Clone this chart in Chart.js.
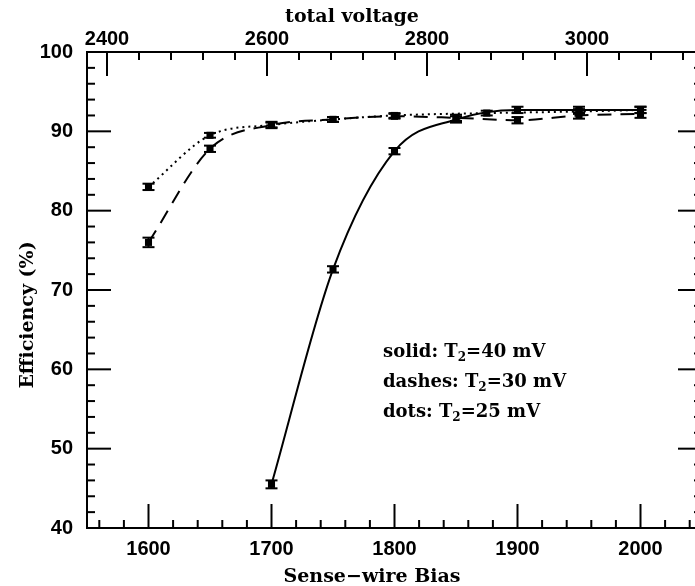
<!DOCTYPE html>
<html>
<head>
<meta charset="utf-8">
<script src="https://cdn.jsdelivr.net/npm/chart.js@4/dist/chart.umd.min.js"></script>
<style>
  html, body { margin: 0; padding: 0; background: #fff; overflow: hidden; }
  #wrap { position: absolute; left: 0; top: 0; width: 720px; height: 586px; }
</style>
</head>
<body>
<div id="wrap"><canvas id="chart" width="720" height="586"></canvas></div>
<script>
// data
const solidBias = [1700, 1750, 1800, 1850, 1900, 1950, 2000];
const solidEff  = [45.5, 72.6, 87.5, 91.5, 92.7, 92.7, 92.7];
const solidErr  = [0.5, 0.4, 0.4, 0.4, 0.4, 0.4, 0.4];

const dashBias = [1600, 1650, 1700, 1750, 1800, 1850, 1900, 1950, 2000];
const dashEff  = [76.0, 87.8, 90.8, 91.5, 91.9, 91.7, 91.4, 92.0, 92.2];
const dashErr  = [0.6, 0.4, 0.4, 0.3, 0.3, 0.4, 0.4, 0.4, 0.5];

const dotBias = [1600, 1650, 1700, 1750, 1800, 1875, 1950, 2000];
const dotEff  = [83.0, 89.5, 90.8, 91.5, 92.0, 92.3, 92.5, 92.7];
const dotErr  = [0.4, 0.3, 0.3, 0.3, 0.3, 0.3, 0.3, 0.4];

// tick labels
const biasTicks = [1600, 1700, 1800, 1900, 2000];
const voltTicks = [2400, 2600, 2800, 3000];
const effTicks  = [40, 50, 60, 70, 80, 90, 100];

const notes = [
  ['solid: T', '2', '=40 mV'],
  ['dashes: T', '2', '=30 mV'],
  ['dots: T', '2', '=25 mV'],
];

const toPts = (xs, ys) => xs.map((x, i) => ({ x: x, y: ys[i] }));

// inward ticks, error bars, titles and the note
const drawExtras = {
  id: 'drawExtras',
  afterDatasetsDraw(chart) {
    const ctx = chart.ctx;
    const a = chart.chartArea;
    const sx = chart.scales.x, st = chart.scales.xTop, sy = chart.scales.y;
    ctx.save();
    ctx.strokeStyle = '#000';
    ctx.lineWidth = 2;

    const tick = (x1, y1, x2, y2) => {
      ctx.beginPath(); ctx.moveTo(x1, y1); ctx.lineTo(x2, y2); ctx.stroke();
    };

    // bottom axis
    for (let v = 1560; v <= 2040; v += 20) {
      const p = sx.getPixelForValue(v);
      const len = biasTicks.includes(v) ? 24 : 8;
      tick(p, a.bottom, p, a.bottom - len);
    }
    // top axis
    for (let v = 2400; v <= 3120; v += 40) {
      const p = st.getPixelForValue(v);
      const len = voltTicks.includes(v) ? 24 : 8;
      tick(p, a.top, p, a.top + len);
    }
    // left / right axes
    for (let v = 42; v < 100; v += 2) {
      const p = sy.getPixelForValue(v);
      const len = effTicks.includes(v) ? 24 : 8;
      tick(a.left, p, a.left + len, p);
      tick(a.right, p, a.right - len, p);
    }

    // error bars
    chart.data.datasets.forEach((ds, di) => {
      const meta = chart.getDatasetMeta(di);
      meta.data.forEach((pt, i) => {
        const e = ds.err[i];
        const y0 = sy.getPixelForValue(ds.data[i].y - e);
        const y1 = sy.getPixelForValue(ds.data[i].y + e);
        ctx.lineWidth = 2;
        tick(pt.x, y0, pt.x, y1);
        tick(pt.x - 6, y0, pt.x + 6, y0);
        tick(pt.x - 6, y1, pt.x + 6, y1);
      });
    });

    // axis titles
    ctx.fillStyle = '#000';
    ctx.font = 'bold 19px "DejaVu Serif"';
    ctx.textAlign = 'center';
    ctx.textBaseline = 'alphabetic';
    ctx.fillText('total voltage', 352, 22);
    ctx.fillText('Sense\u2212wire Bias', 372, 582);
    ctx.save();
    ctx.translate(33, 315);
    ctx.rotate(-Math.PI / 2);
    ctx.fillText('Efficiency (%)', 0, 0);
    ctx.restore();

    // note
    ctx.textAlign = 'left';
    notes.forEach((n, i) => {
      const base = 357 + i * 30;
      let x = 383;
      ctx.font = 'bold 18px "DejaVu Serif"';
      ctx.fillText(n[0], x, base);
      x += ctx.measureText(n[0]).width;
      ctx.font = 'bold 12px "DejaVu Serif"';
      ctx.fillText(n[1], x, base + 4);
      x += ctx.measureText(n[1]).width;
      ctx.font = 'bold 18px "DejaVu Serif"';
      ctx.fillText(n[2], x, base);
    });
    ctx.restore();
  }
};

const lineSet = (label, xs, ys, err, dash) => ({
  label: label,
  data: toPts(xs, ys),
  err: err,
  borderColor: '#000',
  backgroundColor: '#000',
  borderWidth: 2,
  borderDash: dash,
  pointStyle: 'rect',
  pointRadius: 5,
  pointBorderWidth: 0,
  cubicInterpolationMode: 'monotone',
  fill: false,
});

const tickFont = { family: '"Liberation Sans"', size: 20, weight: 'bold' };
const plain = v => String(v);

new Chart(document.getElementById('chart'), {
  type: 'line',
  data: {
    datasets: [
      lineSet('solid: T2=40 mV', solidBias, solidEff, solidErr, []),
      lineSet('dashes: T2=30 mV', dashBias, dashEff, dashErr, [14, 9]),
      lineSet('dots: T2=25 mV', dotBias, dotEff, dotErr, [2, 4]),
    ],
  },
  options: {
    responsive: false,
    animation: false,
    layout: { padding: 0 },
    plugins: { legend: { display: false }, tooltip: { enabled: false } },
    scales: {
      x: {
        type: 'linear', position: 'bottom', min: 1550, max: 2050,
        grid: { display: false, drawTicks: false },
        border: { display: true, color: '#000', width: 2 },
        afterBuildTicks: s => { s.ticks = biasTicks.map(v => ({ value: v })); },
        afterFit: s => { s.height = 58; },
        ticks: { color: '#000', font: tickFont, padding: 9, maxRotation: 0, callback: plain },
      },
      xTop: {
        type: 'linear', position: 'top', min: 2375, max: 3143.75,
        grid: { display: false, drawTicks: false },
        border: { display: true, color: '#000', width: 2 },
        afterBuildTicks: s => { s.ticks = voltTicks.map(v => ({ value: v })); },
        afterFit: s => { s.height = 52; },
        ticks: { color: '#000', font: tickFont, padding: 1, maxRotation: 0, callback: plain },
      },
      y: {
        type: 'linear', position: 'left', min: 40, max: 100,
        grid: { display: false, drawTicks: false },
        border: { display: true, color: '#000', width: 2 },
        afterBuildTicks: s => { s.ticks = effTicks.map(v => ({ value: v })); },
        afterFit: s => { s.width = 87; },
        ticks: { color: '#000', font: tickFont, padding: 14, callback: plain },
      },
      yRight: {
        type: 'linear', position: 'right', min: 40, max: 100,
        grid: { display: false, drawTicks: false },
        border: { display: true, color: '#000', width: 2 },
        afterFit: s => { s.width = 18; },
        ticks: { display: false },
      },
    },
  },
  plugins: [drawExtras],
});
</script>
</body>
</html>
